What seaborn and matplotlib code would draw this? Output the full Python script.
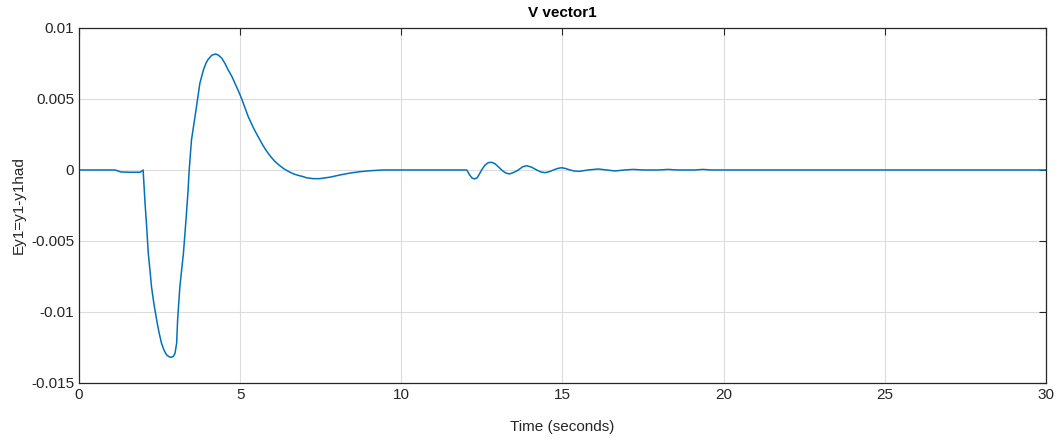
import matplotlib
matplotlib.use("Agg")
import matplotlib.pyplot as plt
import matplotlib.ticker as mticker
import pandas as pd
import seaborn as sns

# Tracking error of output y1 over the simulation run
time_s = [
    0.0, 1.12, 1.3, 1.6, 1.9, 1.99,
    2.05, 2.10, 2.15, 2.20, 2.25, 2.33, 2.41, 2.48, 2.56, 2.64, 2.72, 2.80, 2.87,
    2.93, 2.98, 3.03, 3.06, 3.13, 3.24, 3.32, 3.38, 3.42, 3.49, 3.60, 3.68, 3.75,
    3.86, 3.94, 4.01, 4.12, 4.24, 4.33, 4.43, 4.53, 4.63, 4.74, 4.84, 4.95, 5.05,
    5.15, 5.25, 5.36, 5.46, 5.57, 5.67, 5.77, 5.87, 5.97, 6.08, 6.22, 6.36, 6.50,
    6.65, 6.80, 6.96, 7.06, 7.27, 7.47, 7.80, 8.10, 8.40, 8.72, 9.05, 9.44,
    11.98, 12.03, 12.12, 12.20, 12.27, 12.35, 12.42, 12.49, 12.60, 12.70, 12.80,
    12.90, 13.00, 13.11, 13.23, 13.35, 13.48, 13.63, 13.76, 13.89, 14.04, 14.20,
    14.33, 14.46, 14.59, 14.72, 14.85, 14.98, 15.10, 15.23, 15.36, 15.51, 15.80,
    16.11, 16.37, 16.63, 16.92, 17.20, 17.50, 18.0, 18.27, 18.55, 19.1, 19.36,
    19.6, 30.0,
]
error_y1 = [
    0.0, 0.0, -0.00014, -0.00016, -0.00016, 0.0,
    -0.00235, -0.0040, -0.00587, -0.0070, -0.00822, -0.0095, -0.01056, -0.0114,
    -0.0122, -0.0127, -0.01303, -0.01316, -0.01319, -0.01312, -0.0129, -0.0122,
    -0.01056, -0.00822, -0.00587, -0.00352, -0.0016, 0.0, 0.00211, 0.00376,
    0.0050, 0.0061, 0.00704, 0.00752, 0.0078, 0.00808, 0.00817, 0.00808, 0.00787,
    0.0075, 0.00704, 0.0066, 0.0061, 0.00555, 0.0050, 0.00438, 0.00376, 0.00322,
    0.00275, 0.0023, 0.00188, 0.0015, 0.00117, 0.00088, 0.0006, 0.00032, 0.00008,
    -0.0001, -0.00027, -0.00038, -0.00047, -0.00055, -0.00061, -0.00061, -0.0005,
    -0.00035, -0.00022, -0.00012, -0.00005, 0.0,
    0.0, 0.0, -0.00035, -0.00058, -0.00063, -0.00055, -0.0003, 0.0, 0.00035,
    0.00052, 0.00054, 0.00045, 0.00025, 0.0, -0.0002, -0.00028, -0.00018, 0.0,
    0.00022, 0.0003, 0.0002, 0.0, -0.00014, -0.00019, -0.00012, 0.0, 0.00011,
    0.00016, 0.0001, 0.0, -0.00007, -0.0001, 0.0, 0.00007, 0.0, -0.00007, 0.0,
    0.00004, 0.0, 0.0, 0.00004, 0.0, 0.0, 0.00004, 0.0, 0.0,
]

x_ticks = [0, 5, 10, 15, 20, 25, 30]
y_ticks = [-0.015, -0.01, -0.005, 0, 0.005, 0.01]
y_tick_labels = ["-0.015", "-0.01", "-0.005", "0", "0.005", "0.01"]

sns.set_style("white")
plt.rcParams["font.family"] = ["Liberation Sans", "DejaVu Sans"]
plt.rcParams["axes.unicode_minus"] = False

df = pd.DataFrame({"t": time_s, "e": error_y1})

fig = plt.figure(figsize=(10.6, 4.42), dpi=100)
ax = fig.add_axes([0.0745, 0.1335, 0.9123, 0.8032])

sns.lineplot(data=df, x="t", y="e", ax=ax, color="#0072BD", linewidth=1.1,
             estimator=None, sort=False)

ax.set_xlim(0, 30)
ax.set_ylim(-0.015, 0.01)
ax.set_xticks(x_ticks)
ax.set_yticks(y_ticks)
ax.yaxis.set_major_formatter(mticker.FixedFormatter(y_tick_labels))
ax.xaxis.set_major_formatter(mticker.FormatStrFormatter("%d"))

ax.grid(True, color="#dcdcdc", linewidth=0.8)
ax.set_axisbelow(True)
ax.tick_params(direction="in", length=5, width=0.8, colors="#262626",
               labelsize=11, top=True, right=True, labelcolor="#262626")
for sp in ax.spines.values():
    sp.set_color("#262626")
    sp.set_linewidth(0.9)

ax.set_title("V vector1", fontsize=11, fontweight="bold", pad=8, color="#000000")
ax.set_xlabel("Time (seconds)", fontsize=11, color="#262626", labelpad=13)
ax.set_ylabel("Ey1=y1-y1had", fontsize=11, color="#262626", labelpad=4)

fig.savefig("out.png", dpi=100, facecolor="white")
